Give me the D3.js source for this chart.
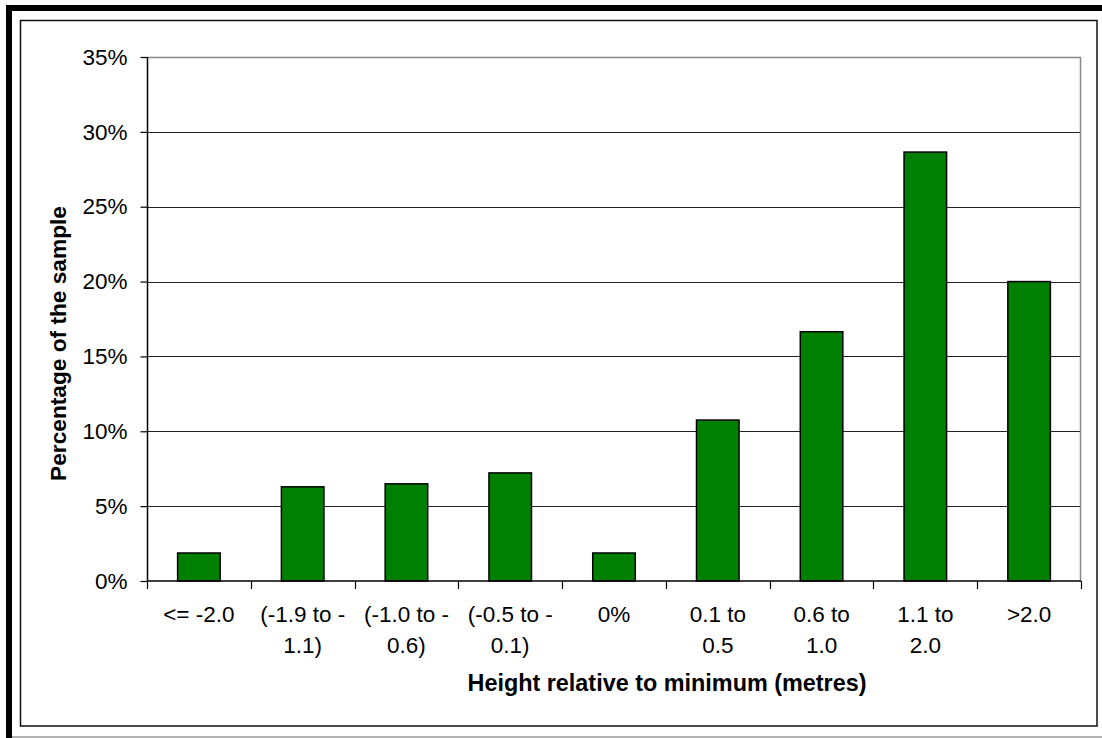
<!DOCTYPE html>
<html>
<head>
<meta charset="utf-8">
<script src="https://cdn.jsdelivr.net/npm/d3@7"></script>
<style>
  html, body { margin: 0; padding: 0; background: #fff; }
  svg { display: block; }
  text { font-family: "Liberation Sans", Arial, sans-serif; fill: #000; }
</style>
</head>
<body>
<svg id="chart" width="1102" height="738"></svg>
<script>
// Height bands (each label may wrap onto a second line)
const categories = [
  ["<= -2.0"],
  ["(-1.9 to -", "1.1)"],
  ["(-1.0 to -", "0.6)"],
  ["(-0.5 to -", "0.1)"],
  ["0%"],
  ["0.1 to", "0.5"],
  ["0.6 to", "1.0"],
  ["1.1 to", "2.0"],
  [">2.0"]
];
// Share of the sample in each band (%)
const values = [1.87, 6.29, 6.49, 7.22, 1.87, 10.75, 16.65, 28.65, 20.0];
// Value axis ticks (%)
const yTicks = [0, 5, 10, 15, 20, 25, 30, 35];

const yTitle = "Percentage of the sample";
const xTitle = "Height relative to minimum (metres)";

const svg = d3.select("#chart");

// Frame: heavy black edge on top and left, thin inner border
svg.append("rect").attr("x", 6).attr("y", 5).attr("width", 1096).attr("height", 6).attr("fill", "#000");
svg.append("rect").attr("x", 6).attr("y", 5).attr("width", 6).attr("height", 733).attr("fill", "#000");
svg.append("line").attr("x1", 12).attr("x2", 1102).attr("y1", 737).attr("y2", 737)
  .attr("stroke", "#9a9a9a").attr("stroke-width", 1.5);
svg.append("rect").attr("x", 20.5).attr("y", 20.5).attr("width", 1076.5).attr("height", 705.5)
  .attr("fill", "none").attr("stroke", "#111").attr("stroke-width", 1.5);

// Plot area
const plotLeft = 147, plotRight = 1081, plotTop = 57, plotBottom = 581;

const labels = categories.map(c => c.join(" "));
const x = d3.scaleBand().domain(labels).range([plotLeft, plotRight]).paddingInner(0.59).paddingOuter(0.295);
const xEdge = d3.scaleLinear().domain([0, categories.length]).range([plotLeft, plotRight]);
const y = d3.scaleLinear().domain([0, 35]).range([plotBottom, plotTop]);

// Horizontal gridlines
svg.append("g").selectAll("line")
  .data(yTicks.filter(t => t > 0 && t < 35))
  .join("line")
  .attr("x1", plotLeft).attr("x2", plotRight)
  .attr("y1", d => Math.round(y(d)) + 0.5).attr("y2", d => Math.round(y(d)) + 0.5)
  .attr("stroke", "#222").attr("stroke-width", 1);

// Plot area outline (top and right)
svg.append("path")
  .attr("d", `M${plotLeft},${plotTop + 0.5}H${plotRight - 0.5}V${plotBottom}`)
  .attr("fill", "none").attr("stroke", "#888").attr("stroke-width", 1.5);

// Bars
svg.append("g").selectAll("rect")
  .data(values)
  .join("rect")
  .attr("x", (d, i) => x(labels[i]))
  .attr("width", x.bandwidth())
  .attr("y", d => y(d))
  .attr("height", d => y(0) - y(d))
  .attr("fill", "#008000")
  .attr("stroke", "#000")
  .attr("stroke-width", 1.5);

// Value axis
const yAxis = d3.axisLeft(y).tickValues(yTicks).tickFormat(d => d + "%").tickSize(7).tickPadding(13);
const gy = svg.append("g").attr("transform", `translate(${plotLeft + 0.5},0)`).call(yAxis);
gy.select(".domain").attr("stroke", "#000").attr("stroke-width", 1.5)
  .attr("d", `M0,${plotTop}V${plotBottom}`);
gy.selectAll(".tick line").attr("stroke", "#000").attr("stroke-width", 1.2);
gy.selectAll(".tick text").style("font-family", "'Liberation Sans', Arial, sans-serif")
  .style("font-size", "22.5px").attr("fill", "#000");

// Category axis line and boundary ticks
svg.append("line").attr("x1", plotLeft).attr("x2", plotRight)
  .attr("y1", plotBottom).attr("y2", plotBottom)
  .attr("stroke", "#000").attr("stroke-width", 1.5);
svg.append("g").selectAll("line")
  .data(d3.range(categories.length + 1))
  .join("line")
  .attr("x1", d => Math.round(xEdge(d)) + 0.5).attr("x2", d => Math.round(xEdge(d)) + 0.5)
  .attr("y1", plotBottom).attr("y2", plotBottom + 8)
  .attr("stroke", "#000").attr("stroke-width", 1.2);

// Category labels
const lab = svg.append("g").selectAll("text")
  .data(categories)
  .join("text")
  .attr("text-anchor", "middle")
  .style("font-size", "22.5px");
lab.each(function (lines, i) {
  const cx = x(labels[i]) + x.bandwidth() / 2;
  d3.select(this).selectAll("tspan")
    .data(lines)
    .join("tspan")
    .attr("x", cx)
    .attr("y", (l, j) => 622 + j * 30.5)
    .text(l => l);
});

// Axis titles
svg.append("text")
  .attr("transform", "translate(66,343.5) rotate(-90)")
  .attr("text-anchor", "middle")
  .style("font-size", "22.7px").style("font-weight", "bold")
  .text(yTitle);
svg.append("text")
  .attr("x", 667).attr("y", 691)
  .attr("text-anchor", "middle")
  .style("font-size", "23.4px").style("font-weight", "bold")
  .text(xTitle);
</script>
</body>
</html>
